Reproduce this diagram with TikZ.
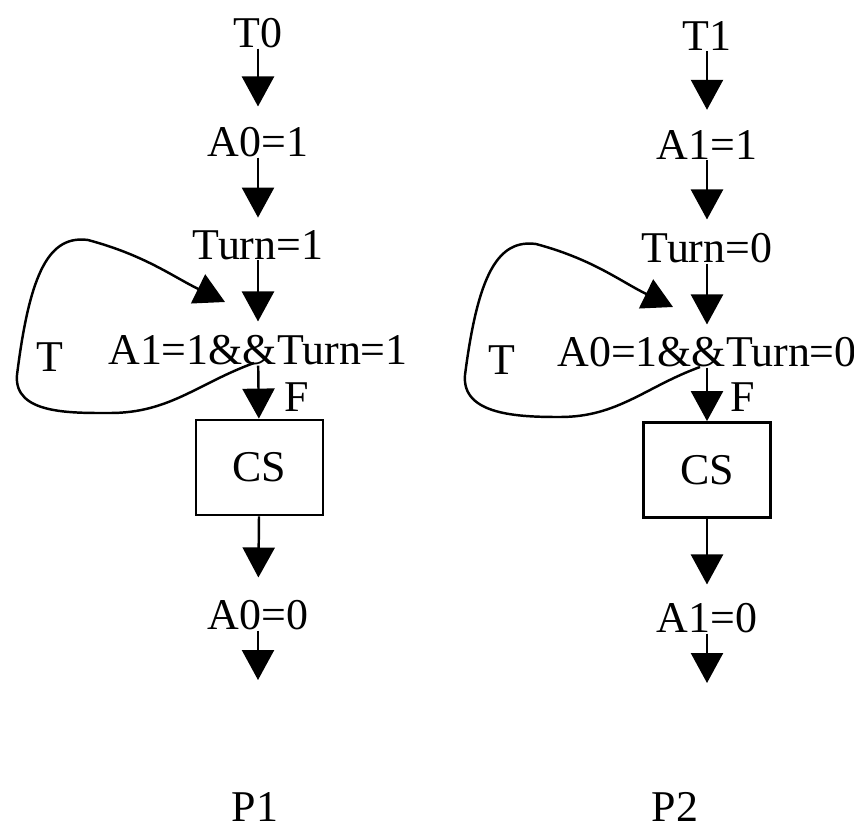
\documentclass[tikz,border=0pt]{standalone}
\usepackage{fontspec}
\setmainfont{Liberation Serif}
\usetikzlibrary{arrows.meta}
\tikzset{
  lbl/.style={inner sep=0pt, font=\fontsize{12.5}{15}\selectfont},
  csbox/.style={draw, line width=0.8pt, minimum width=1.27cm, minimum height=0.95cm, inner sep=0pt, font=\fontsize{12.5}{15}\selectfont},
  flow/.style={-{Triangle[width=3.2mm,length=3mm]}, line width=0.7pt},
}
\begin{document}
\begin{tikzpicture}
\useasboundingbox (0,0) rectangle (8.54,8.30);
% left process
\node[lbl] (t0) at (2.58,7.97) {T0};
\node[lbl] (a0set) at (2.58,6.88) {A0=1};
\node[lbl] (turn1) at (2.58,5.85) {Turn=1};
\node[lbl] (test1) at (2.58,4.80) {A1=1\&\&Turn=1};
\node[csbox] (cs1) at (2.595,3.625) {CS};
\node[lbl] (a0clr) at (2.58,2.15) {A0=0};
\coordinate (end1) at (2.58,1.50);
\node[lbl] (p1) at (2.55,0.23) {P1};
\node[lbl] (f1) at (2.97,4.33) {F};
\node[lbl] (tl1) at (0.50,4.73) {T};
\coordinate (back1) at (2.25,5.28);
% arrows
\draw[flow, shorten >=0.2cm] (t0) -- (a0set);
\draw[flow, shorten >=0.12cm] (a0set) -- (turn1);
\draw[flow, shorten >=0.13cm] (turn1) -- (test1);
\draw[flow] (test1) -- (cs1);
\draw[flow, shorten >=0.22cm] (cs1) -- (a0clr);
\draw[flow] (a0clr) -- (end1);
% loop back (true)
\draw[flow] (2.54,4.67) to[out=200,in=0] (1.10,4.17) to[out=180,in=-95] (0.17,4.55)
  .. controls (0.30,5.60) and (0.50,5.95) .. (0.88,5.90) to[out=-15,in=154] (back1);
% right process
\node[lbl] (t1) at (7.07,7.94) {T1};
\node[lbl] (a1set) at (7.07,6.85) {A1=1};
\node[lbl] (turn0) at (7.07,5.82) {Turn=0};
\node[lbl] (test2) at (7.07,4.78) {A0=1\&\&Turn=0};
\node[csbox] (cs2) at (7.07,3.60) {CS};
\node[lbl] (a1clr) at (7.07,2.12) {A1=0};
\coordinate (end2) at (7.07,1.47);
\node[lbl] (p2) at (6.75,0.23) {P2};
\node[lbl] (f2) at (7.43,4.33) {F};
\node[lbl] (tl2) at (5.02,4.70) {T};
\coordinate (back2) at (6.73,5.23);
% arrows
\draw[flow, shorten >=0.2cm] (t1) -- (a1set);
\draw[flow, shorten >=0.13cm] (a1set) -- (turn0);
\draw[flow, shorten >=0.12cm] (turn0) -- (test2);
\draw[flow] (test2) -- (cs2);
\draw[flow, shorten >=0.18cm] (cs2) -- (a1clr);
\draw[flow] (a1clr) -- (end2);
% loop back (true)
\draw[flow] (7.00,4.63) to[out=200,in=0] (5.60,4.13) to[out=180,in=-95] (4.65,4.55)
  .. controls (4.78,5.56) and (4.98,5.91) .. (5.36,5.86) to[out=-15,in=154] (back2);
\end{tikzpicture}
\end{document}
